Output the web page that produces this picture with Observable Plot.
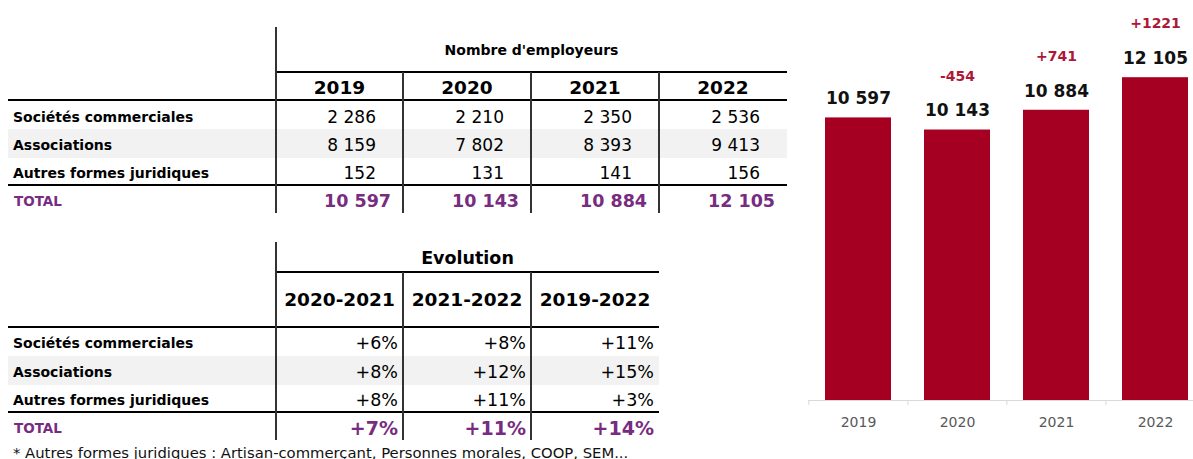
<!DOCTYPE html>
<html>
<head>
<meta charset="utf-8">
<script src="https://cdn.jsdelivr.net/npm/d3@7"></script>
<script src="https://cdn.jsdelivr.net/npm/@observablehq/plot@0.6"></script>
<style>
  html, body { margin: 0; padding: 0; background: #fff; overflow: hidden; }
  #root { position: relative; width: 1193px; height: 459px; overflow: hidden; background: #fff; font-family: "DejaVu Sans", Verdana, sans-serif; }
  #chart { position: absolute; left: 800px; top: 0px; width: 405px; height: 459px; }
  #chart svg { max-width: none !important; width: 405px; height: 459px; }
</style>
</head>
<body>
<div id="root"><div id="chart"></div></div>
<script>
// ---- Data ----
const years = ["2019", "2020", "2021", "2022"];
const categories = ["Sociétés commerciales", "Associations", "Autres formes juridiques"];
const societes = [2286, 2210, 2350, 2536];
const associations = [8159, 7802, 8393, 9413];
const autres = [152, 131, 141, 156];
const totals = [10597, 10143, 10884, 12105];
const deltas = [null, -454, 741, 1221];
const periods = ["2020-2021", "2021-2022", "2019-2022"];
const evoSocietes = [6, 8, 11];
const evoAssociations = [8, 12, 15];
const evoAutres = [8, 11, 3];
const evoTotal = [7, 11, 14];
const tableTitle = "Nombre d'employeurs";
const evoTitle = "Evolution";
const totalLabel = "TOTAL";
const footnote = "* Autres formes juridiques : Artisan-commerçant, Personnes morales, COOP, SEM...";

// ---- Helpers ----
const W = 1193;
const root = document.getElementById("root");
const fmt = n => String(n).replace(/\B(?=(\d{3})+(?!\d))/g, " ");
const pct = n => (n >= 0 ? "+" : "") + n + "%";
const PURPLE = "#772c80";
const RED = "#a50021";

function addText(str, x, y, {anchor = "start", size = 14, weight = "normal", color = "#000"} = {}) {
  const d = document.createElement("div");
  d.textContent = str;
  d.style.cssText = `position:absolute;white-space:nowrap;font-family:'DejaVu Sans',Verdana,sans-serif;font-size:${size}px;font-weight:${weight};color:${color};height:40px;line-height:40px;top:${y - 20}px;`;
  if (anchor === "start") d.style.left = x + "px";
  else if (anchor === "end") d.style.right = (W - x) + "px";
  else { d.style.left = (x - 300) + "px"; d.style.width = "600px"; d.style.textAlign = "center"; }
  root.appendChild(d);
}
function rect(x1, x2, y1, y2, color) {
  const d = document.createElement("div");
  d.style.cssText = `position:absolute;left:${x1}px;top:${y1}px;width:${x2 - x1}px;height:${y2 - y1}px;background:${color};`;
  root.appendChild(d);
}
const hline = (x1, x2, y, w = 2, c = "#000") => rect(x1, x2, y - w / 2, y + w / 2, c);
const vline = (x, y1, y2, w = 1, c = "#333") => rect(x - w / 2, x + w / 2, y1, y2, c);

// ---- Table 1 : Nombre d'employeurs ----
{
  const cols = [276, 403, 531, 659, 787];
  const rowsY = [116.7, 144.5, 172.8];
  const series = [societes, associations, autres];
  rect(8, 787, 129, 157.5, "#f2f2f2");
  hline(276, 787, 72);
  hline(8, 787, 100);
  hline(8, 787, 185);
  vline(276, 27, 213, 1.5);
  for (let i = 1; i < 4; i++) vline(cols[i], 72, 213, 1.5);
  addText(tableTitle, 531.5, 50, {anchor: "middle", size: 14, weight: "bold"});
  years.forEach((y, j) => addText(y, (cols[j] + cols[j + 1]) / 2, 88, {anchor: "middle", size: 18.5, weight: "bold"}));
  categories.forEach((c, i) => {
    addText(c, 13, rowsY[i], {size: 14, weight: "bold"});
    series[i].forEach((v, j) => addText(fmt(v), cols[j + 1] - 27, rowsY[i], {anchor: "end", size: 17}));
  });
  addText(totalLabel, 14, 200.5, {size: 13.5, weight: "bold", color: PURPLE});
  totals.forEach((v, j) => addText(fmt(v), cols[j + 1] - 12, 200.5, {anchor: "end", size: 17.5, weight: "bold", color: PURPLE}));
}

// ---- Table 2 : Evolution ----
{
  const cols = [276, 403, 531, 659];
  const rowsY = [343.3, 371.5, 399.5];
  const series = [evoSocietes, evoAssociations, evoAutres];
  rect(8, 659, 356, 385, "#f2f2f2");
  hline(276, 659, 272);
  hline(8, 659, 327);
  hline(8, 659, 412);
  vline(276, 242, 440, 1.5);
  for (let i = 1; i < 3; i++) vline(cols[i], 272, 440, 1.5);
  addText(evoTitle, 467.5, 257.5, {anchor: "middle", size: 17.5, weight: "bold"});
  periods.forEach((p, j) => addText(p, (cols[j] + cols[j + 1]) / 2, 300, {anchor: "middle", size: 18.5, weight: "bold"}));
  categories.forEach((c, i) => {
    addText(c, 13, rowsY[i], {size: 14, weight: "bold"});
    series[i].forEach((v, j) => addText(pct(v), cols[j + 1] - 5, rowsY[i], {anchor: "end", size: 17.5}));
  });
  addText(totalLabel, 14, 427.5, {size: 13.5, weight: "bold", color: PURPLE});
  evoTotal.forEach((v, j) => addText(pct(v), cols[j + 1] - 5, 427.5, {anchor: "end", size: 19, weight: "bold", color: PURPLE}));
  addText(footnote, 13, 453, {size: 14.8, color: "#111"});
}

// ---- Bar chart ----
const barData = years.map((y, i) => ({year: y, total: totals[i], delta: deltas[i]}));
const step = 397 / years.length;
const chart = Plot.plot({
  width: 405,
  height: 459,
  marginLeft: 8,
  marginRight: 0,
  marginTop: 0,
  marginBottom: 59,
  style: {fontFamily: "'DejaVu Sans', Verdana, sans-serif", background: "transparent", overflow: "visible", maxWidth: "none"},
  x: {domain: years, paddingInner: 0.33, paddingOuter: 0.165, label: null},
  y: {domain: [0, 15000], axis: null},
  marks: [
    Plot.barY(barData, {x: "year", y: "total", fill: RED}),
    Plot.ruleY([0], {stroke: "#d9d9d9", strokeWidth: 1}),
    Plot.axisX({tickSize: 5, fill: "none", stroke: "#d9d9d9", dx: -step / 2, label: null}),
    Plot.axisX({tickSize: 0, tickPadding: 17, fontSize: 14, color: "#595959", label: null}),
    Plot.text(barData, {x: "year", y: "total", text: d => fmt(d.total), dy: -19, fontSize: 17, fontWeight: "bold", fill: "#111"}),
    Plot.text(barData.filter(d => d.delta != null), {x: "year", y: "total", text: d => (d.delta > 0 ? "+" : "") + d.delta, dy: -54, fontSize: 14, fontWeight: "bold", fill: "#ad1838"})
  ]
});
document.getElementById("chart").appendChild(chart);
</script>
</body>
</html>
